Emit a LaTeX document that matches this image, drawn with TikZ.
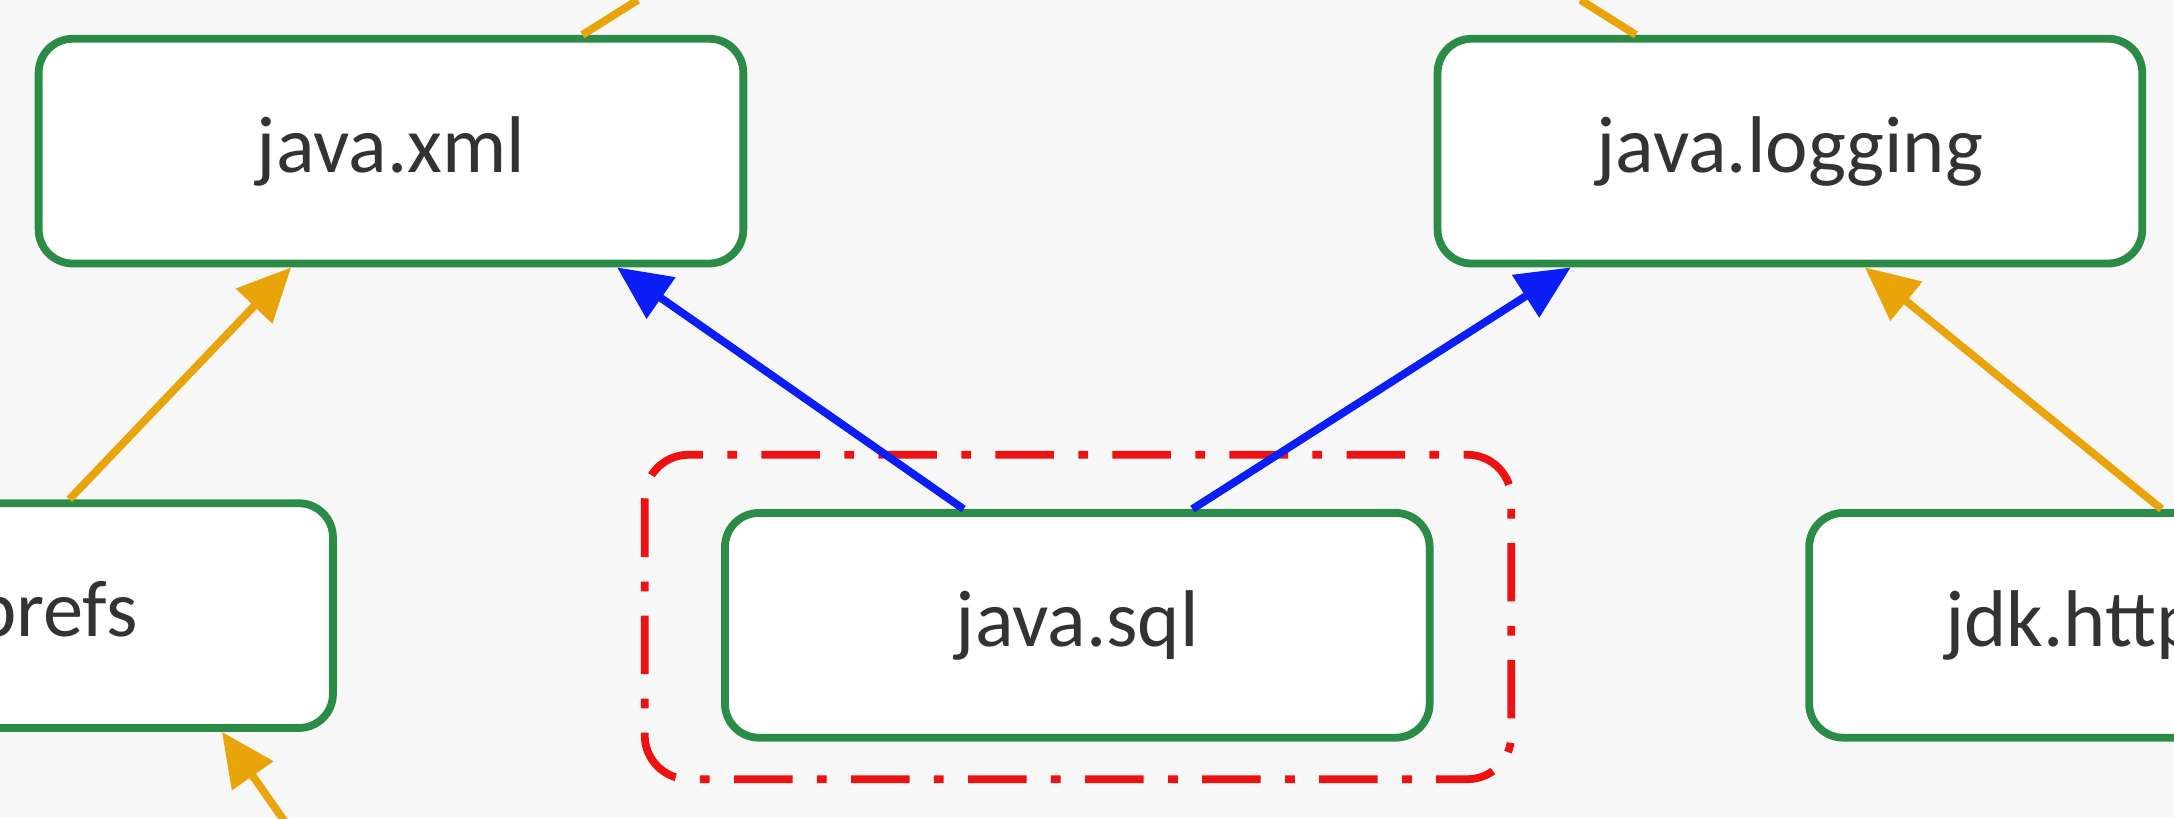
\documentclass[tikz,border=0pt]{standalone}
\usepackage{fontspec}
\setmainfont{Carlito}
\usetikzlibrary{arrows.meta}
\definecolor{bg}{HTML}{F7F7F7}
\definecolor{gr}{HTML}{2A8C46}
\definecolor{og}{HTML}{E9A40A}
\definecolor{bl}{HTML}{0A1EF5}
\definecolor{rd}{HTML}{EE1111}
\definecolor{tx}{HTML}{333333}
\begin{document}
\begin{tikzpicture}[x=0.01cm,y=-0.01cm,
  mod/.style={draw=gr,line width=1.6pt,fill=white,rounded corners=7pt,minimum width=5.08cm,minimum height=1.62cm,inner sep=0pt,font=\fontsize{16.5}{19}\selectfont,text=tx},
  dep/.style={line width=1.6pt,-{Triangle[length=11pt,width=10pt]}},
  od/.style={dep,draw=og,fill=og},
  bd/.style={dep,draw=bl,fill=bl}]
\fill[bg] (0,0) rectangle (1568,590);
\useasboundingbox (0,0) rectangle (1568,590);
\clip (0,0) rectangle (1568,590);
\draw[rd,line width=1.6pt,rounded corners=9pt,dash pattern=on 12pt off 5pt on 2pt off 5pt] (465,328) rectangle (1090,562);
\node[mod] (xml) at (282,109) {java.xml};
\node[mod] (log) at (1291,109) {java.logging};
\node[mod] (prefs) at (-14,444) {java.prefs};
\node[mod] (sql) at (777,451) {java.sql};
\node[mod] (http) at (1559,451) {jdk.httpclient};
\coordinate (t1) at (460,0);
\coordinate (t2) at (1140,0);
\coordinate (b1) at (205,592);
\draw[og,line width=1.6pt] ([xshift=1.38cm]xml.north) -- (t1);
\draw[og,line width=1.6pt] ([xshift=-1.11cm]log.north) -- (t2);
\draw[od] ([xshift=0.64cm]prefs.north) -- ([xshift=-0.72cm]xml.south);
\draw[od] (b1) -- ([xshift=1.74cm]prefs.south);
\draw[bd] ([xshift=-0.82cm]sql.north) -- ([xshift=1.63cm]xml.south);
\draw[bd] ([xshift=0.83cm]sql.north) -- ([xshift=-1.58cm]log.south);
\draw[od] ([xshift=0cm]http.north) -- ([xshift=0.54cm]log.south);
\end{tikzpicture}
\end{document}
